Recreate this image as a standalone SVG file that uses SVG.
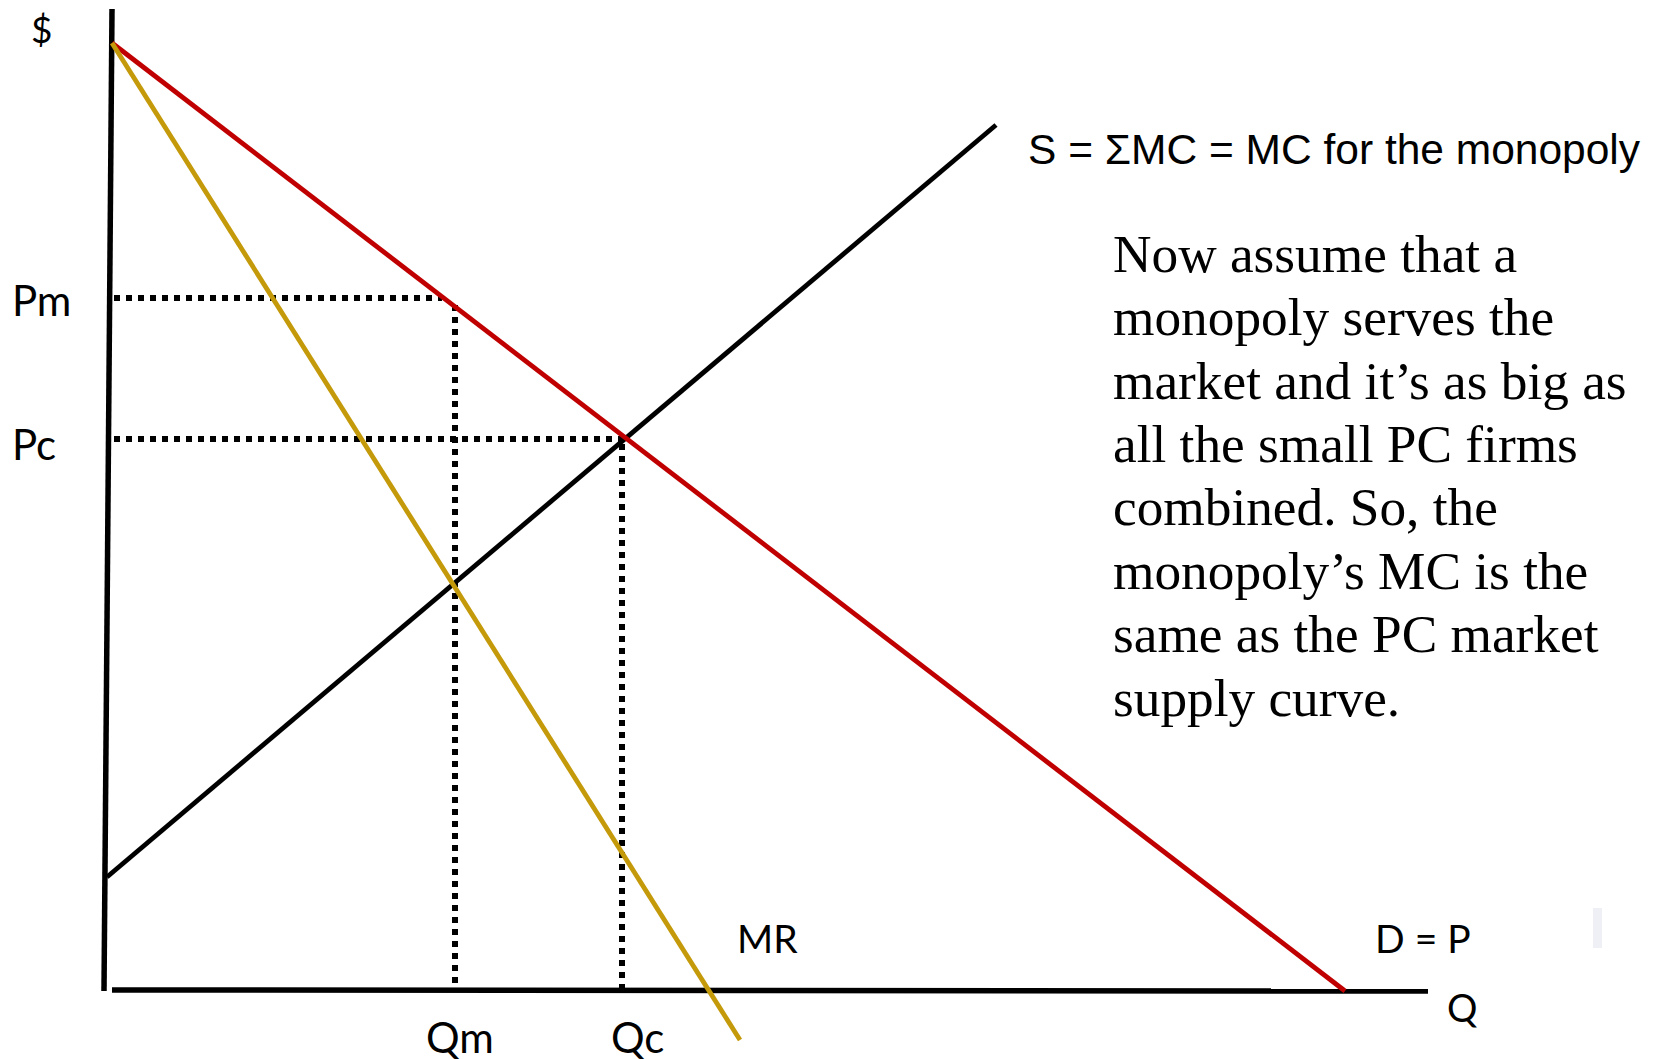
<svg xmlns="http://www.w3.org/2000/svg" width="1658" height="1059" viewBox="0 0 1658 1059">
<style>
.axis{stroke:#000;stroke-width:5.5;fill:none;stroke-linecap:butt}
.curve{stroke-width:4.8;fill:none;stroke-linecap:butt}
.dot{stroke:#000;stroke-width:6;fill:none;stroke-dasharray:6 6}
.lbl{font-family:Lato,"Open Sans",sans-serif;fill:#000}
.ttl{font-family:"Liberation Sans",Arial,sans-serif;font-size:42.5px;fill:#000}
.para{font-family:"Liberation Serif","Times New Roman",serif;font-size:53.3px;fill:#000}
</style>
<rect width="1658" height="1059" fill="#fff"/>
<rect x="1593" y="908" width="9" height="40" fill="#eef0f5"/>
<g id="axes">
<line class="axis" x1="112" y1="9" x2="104" y2="991"/>
<line class="axis" x1="112" y1="990" x2="1428" y2="991"/>
</g>
<g id="connectors">
<line class="dot" x1="114" y1="298" x2="442" y2="298"/>
<line class="dot" x1="114" y1="439" x2="624" y2="439"/>
<line class="dot" x1="455" y1="305" x2="455" y2="992"/>
<line class="dot" x1="622" y1="444" x2="622" y2="992"/>
</g>
<g id="supply">
<line class="curve" stroke="#000" x1="107" y1="877" x2="996" y2="125"/>
</g>
<g id="demand">
<line class="curve" stroke="#C00000" x1="112" y1="43" x2="1345" y2="991"/>
</g>
<g id="mr">
<line class="curve" stroke="#C49A0A" x1="112" y1="43" x2="740" y2="1040"/>
</g>
<g id="labels">
<text class="lbl" x="31" y="43" font-size="37">$</text>
<text class="lbl" x="12" y="316" font-size="42">Pm</text>
<text class="lbl" x="12" y="460" font-size="42">Pc</text>
<text class="lbl" x="426" y="1053" font-size="42">Qm</text>
<text class="lbl" x="611" y="1053" font-size="42">Qc</text>
<text class="lbl" x="737" y="953" font-size="39">MR</text>
<text class="lbl" x="1375" y="953" font-size="39">D = P</text>
<text class="lbl" x="1447" y="1022" font-size="38">Q</text>
<text class="ttl" x="1028" y="164">S = ΣMC = MC for the monopoly</text>
</g>
<g id="note">
<text class="para" x="1113" y="272">Now assume that a</text>
<text class="para" x="1113" y="335">monopoly serves the</text>
<text class="para" x="1113" y="399">market and it’s as big as</text>
<text class="para" x="1113" y="462">all the small PC firms</text>
<text class="para" x="1113" y="525">combined. So, the</text>
<text class="para" x="1113" y="589">monopoly’s MC is the</text>
<text class="para" x="1113" y="652">same as the PC market</text>
<text class="para" x="1113" y="716">supply curve.</text>
</g>
</svg>
